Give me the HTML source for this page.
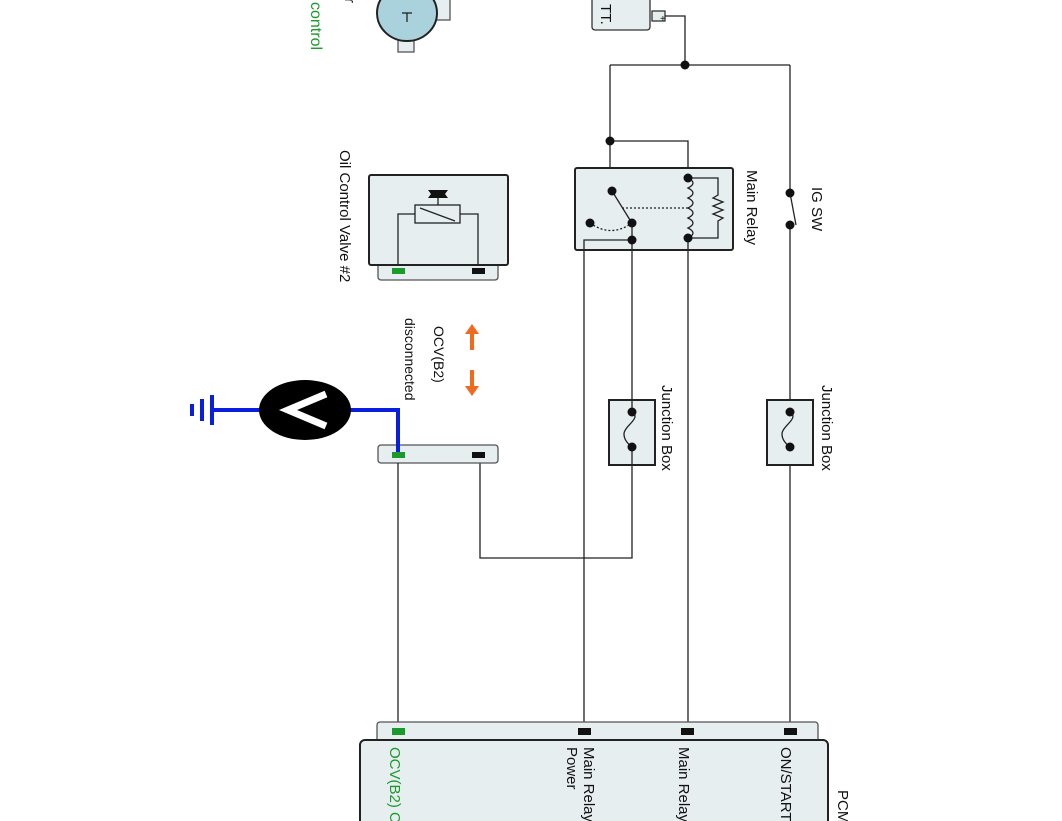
<!DOCTYPE html>
<html><head><meta charset="utf-8"><style>
html,body{margin:0;padding:0;background:#fff;}
svg{display:block;}
text{font-family:"Liberation Sans",sans-serif;font-size:15px;fill:#111;}
</style></head><body>
<svg width="1062" height="821" viewBox="0 0 1062 821" xmlns="http://www.w3.org/2000/svg">
<g stroke="#222" stroke-width="1.3" fill="none">
<!-- battery -->
<rect x="592" y="-10" width="58" height="40" rx="3" fill="#e6eef0" stroke="#333"/>
<rect x="652" y="11" width="13" height="10" fill="#e6eef0" stroke="#333"/>
<polyline points="665,16 685,16 685,65"/>
<line x1="610" y1="65" x2="790" y2="65"/>
<line x1="610" y1="65" x2="610" y2="191"/>
<polyline points="610,141 688,141 688,178"/>
<!-- relay -->
<rect x="575" y="168" width="158" height="82" rx="2" fill="#e6eef0" stroke="#222" stroke-width="2"/>
<line x1="612" y1="191" x2="630" y2="220"/>
<line x1="622" y1="208" x2="688" y2="208" stroke-dasharray="2,2"/>
<path d="M590,223 Q611,238 632,223" stroke-dasharray="2,2"/>
<path d="M688,178 q10,5 0,10 q10,5 0,10 q10,5 0,10 q10,5 0,10 q10,5 0,10 q10,5 0,10 l0,0"/>
<line x1="688" y1="238" x2="688" y2="238"/>
<polyline points="688,178 718,178 718,195 713,198 723,202 713,206 723,210 713,214 723,218 718,221 718,238 688,238"/>
<polyline points="632,240 584,240 584,731"/>
<line x1="632" y1="223" x2="632" y2="412"/>
<polyline points="632,447 632,558 480,558 480,458"/>
<line x1="688" y1="238" x2="688" y2="731"/>
<!-- IG SW -->
<line x1="790" y1="65" x2="790" y2="193"/>
<line x1="790" y1="193" x2="796" y2="225"/>
<line x1="790" y1="225" x2="790" y2="412"/>
<line x1="790" y1="447" x2="790" y2="731"/>
<!-- junction boxes -->
<rect x="609" y="400" width="46" height="65" fill="#e6eef0" stroke="#222" stroke-width="2"/>
<rect x="767" y="400" width="46" height="65" fill="#e6eef0" stroke="#222" stroke-width="2"/>
<path d="M632,412 c10,6 -8,14 -8,22 c0,6 4,10 8,13"/>
<path d="M790,412 c10,6 -8,14 -8,22 c0,6 4,10 8,13"/>
<line x1="632" y1="400" x2="632" y2="412"/><line x1="632" y1="447" x2="632" y2="465"/>
<!-- OCV -->
<rect x="378" y="262" width="120" height="18" rx="3" fill="#e6eef0" stroke="#555"/>
<rect x="369" y="175" width="139" height="90" rx="2" fill="#e6eef0" stroke="#222" stroke-width="2"/>
<rect x="415" y="205" width="45" height="18" fill="#e6eef0"/>
<line x1="420" y1="208" x2="455" y2="221"/>
<polyline points="415,214 398,214 398,265"/>
<polyline points="460,214 478,214 478,265"/>
<line x1="438" y1="205" x2="438" y2="196"/>
<rect x="378" y="445" width="120" height="18" rx="3" fill="#e6eef0" stroke="#555"/>
<line x1="398" y1="463" x2="398" y2="731"/>
<!-- motor -->
<rect x="398" y="35" width="16" height="17" fill="#e6eef0" stroke="#555"/>
<rect x="426" y="-5" width="24" height="25" fill="#e6eef0" stroke="#555"/>
<ellipse cx="407" cy="13" rx="30" ry="28" fill="#a9d2dc" stroke="#222" stroke-width="2"/>
<line x1="402" y1="13" x2="412" y2="13"/><line x1="407" y1="13" x2="407" y2="22"/>
<!-- PCM -->
<rect x="377" y="722" width="441" height="30" rx="3" fill="#e6eef0" stroke="#555"/>
<rect x="360" y="740" width="468" height="100" rx="5" fill="#e6eef0" stroke="#222" stroke-width="2"/>
</g>
<g fill="#111">
<text x="660" y="22" style="font-size:10px">+</text>
<circle cx="685" cy="65" r="4.5"/><circle cx="610" cy="141" r="4.5"/>
<circle cx="612" cy="191" r="4.5"/><circle cx="590" cy="223" r="4.5"/>
<circle cx="632" cy="223" r="4.5"/><circle cx="632" cy="240" r="4.5"/>
<circle cx="688" cy="178" r="4.5"/><circle cx="688" cy="238" r="4.5"/>
<circle cx="790" cy="193" r="4.5"/><circle cx="790" cy="225" r="4.5"/>
<circle cx="632" cy="412" r="4.5"/><circle cx="632" cy="447" r="4.5"/>
<circle cx="790" cy="412" r="4.5"/><circle cx="790" cy="447" r="4.5"/>
<rect x="472" y="268" width="13" height="6"/><rect x="472" y="452" width="13" height="6"/>
<rect x="578" y="728" width="13" height="7"/><rect x="681" y="728" width="13" height="7"/><rect x="784" y="728" width="13" height="7"/>
<path d="M428,190 l20,0 l-3,4 l3,4 l-20,0 l3,-4 z" />
</g>
<rect x="392" y="268" width="13" height="6" fill="#1a9a2a"/>
<rect x="392" y="728" width="13" height="7" fill="#1a9a2a"/>
<!-- voltmeter -->
<g stroke="#0a1ee0" stroke-width="4" fill="none">
<polyline points="398,455 398,410 345,410"/>
<line x1="265" y1="410" x2="212" y2="410"/>
<line x1="212" y1="395" x2="212" y2="425"/><line x1="202" y1="399" x2="202" y2="421"/><line x1="192" y1="404" x2="192" y2="416"/>
</g>
<rect x="392" y="452" width="13" height="6" fill="#1a9a2a"/>
<ellipse cx="305" cy="410" rx="46" ry="30" fill="#000"/>
<polyline points="326,394 288,410 326,426" fill="none" stroke="#fff" stroke-width="7"/>
<!-- orange arrows -->
<g stroke="#f26a1b" stroke-width="4" fill="#f26a1b">
<line x1="472" y1="332" x2="472" y2="350"/><path d="M465,334 L472,324 L479,334 Z" stroke="none"/>
<line x1="472" y1="370" x2="472" y2="388"/><path d="M465,386 L472,396 L479,386 Z" stroke="none"/>
</g>
<!-- labels -->
<text transform="translate(601,4) rotate(90)">TT.</text>
<text transform="translate(345,-2) rotate(90)">r</text>
<text transform="translate(311,2) rotate(90)" style="fill:#1a9a2a;font-size:16px">control</text>
<text transform="translate(340,150) rotate(90)">Oil Control Valve #2</text>
<text transform="translate(747,170) rotate(90)">Main Relay</text>
<text transform="translate(812,187) rotate(90)">IG SW</text>
<text transform="translate(662,385) rotate(90)">Junction Box</text>
<text transform="translate(822,385) rotate(90)">Junction Box</text>
<text transform="translate(434,326) rotate(90)" style="font-size:14px">OCV(B2)</text>
<text transform="translate(405,318) rotate(90)" style="font-size:14px">disconnected</text>
<text transform="translate(390,747) rotate(90)" style="fill:#1a9a2a">OCV(B2) Control</text>
<text transform="translate(584,747) rotate(90)">Main Relay</text>
<text transform="translate(567,747) rotate(90)">Power</text>
<text transform="translate(679,747) rotate(90)">Main Relay</text>
<text transform="translate(781,747) rotate(90)">ON/START</text>
<text transform="translate(838,790) rotate(90)">PCM</text>
</svg>
</body></html>
